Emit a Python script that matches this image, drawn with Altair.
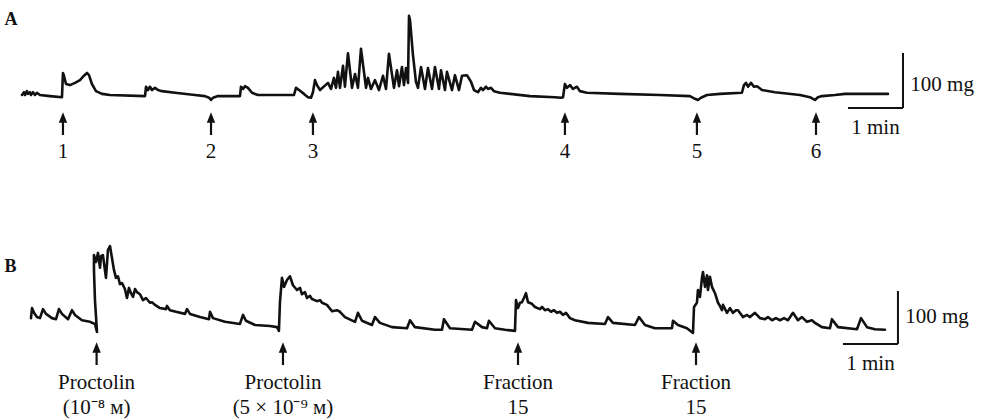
import altair as alt
import pandas as pd

# ---- Trace A: isometric tension (mg) against time (s) ----
a_time = [2.2, 4.4, 5.5, 7.6, 8.7, 10.9, 12.0, 14.2, 16.4, 18.5, 21.8, 32.7, 45.8,
          46.9, 48.0, 50.2, 54.5, 60.0, 65.5, 69.8, 73.1, 75.3, 78.5, 82.9, 89.5, 98.2, 136.4,
          137.5, 139.6, 141.8, 144.0, 147.3, 150.5, 154.9, 169.1, 190.9, 201.8,
          206.2, 208.4, 210.5, 216.0, 240.0,
          241.1, 243.3, 245.5, 248.7, 253.1, 259.6, 298.9,
          301.1, 304.4, 309.8, 314.2, 317.5, 319.6, 321.8, 324.0, 327.3,
          336.0, 339.3, 342.5, 344.7, 346.9, 349.1, 352.4, 354.5, 357.8, 362.2,
          365.5, 368.7, 372.0, 377.5, 379.6, 382.9, 387.3, 391.6, 396.0, 399.3,
          402.5, 408.0, 411.3, 413.5, 416.7, 418.9, 421.1, 423.3, 424.4, 425.5,
          428.7, 432.0, 434.2, 437.5, 441.8, 445.1, 449.5, 452.7, 457.1, 459.3,
          463.6, 465.8, 471.3, 474.5, 478.9, 482.2, 487.6, 492.0, 495.3, 499.6,
          502.9, 505.1, 508.4, 510.5, 513.8, 517.1, 523.6, 556.4, 583.6, 590.2,
          592.4, 594.5, 596.7, 600.0, 603.3, 607.6, 610.9, 618.5, 654.5, 698.2,
          730.9, 736.4, 739.6, 742.9, 749.5, 763.6, 787.6, 789.8, 792.0, 794.2,
          797.5, 800.7, 804.0, 809.5, 823.6, 850.9, 861.8, 865.1, 867.3, 870.5,
          874.9, 889.1, 900.0, 946.9]
a_tension = [0, 5, 0, 7, 2, 5, 0, 5, 0, 4, 0, -2, -4,
             40, 35, 20, 18, 22, 27, 35, 40, 36, 20, 7, 2, 0, -2,
             15, 9, 15, 9, 13, 9, 7, 4, 0, -2,
             -5, -9, -5, -2, -2,
             15, 11, 16, 13, 4, 0, 0,
             13, 9, 2, -4, -5, 5, 27, 18, 9,
             22, 11, 31, 13, 42, 13, 53, 15, 76, 13,
             38, 13, 84, 13, 31, 11, 27, 9, 35, 11,
             75, 13, 45, 16, 51, 18, 49, 22, 144, 136,
             73, 24, 13, 51, 11, 49, 11, 51, 11, 45,
             9, 42, 9, 36, 9, 35, 36, 24, 9, 5,
             13, 9, 15, 11, 13, 7, 4, -2, -4, -5,
             -4, 20, 13, 18, 11, 15, 7, 4, 2, 0,
             -2, -7, -9, -5, 0, 2, 4, 18, 22, 15,
             22, 15, 16, 9, 5, 0, -4, -7, -9, -4,
             -2, 0, 2, 2]

# ---- Trace B ----
b_time = [12.0, 13.1, 15.3, 18.5, 21.8, 25.1, 28.4, 34.9, 39.3, 42.5, 45.8, 52.4, 56.7,
          60.0, 67.6, 76.4, 81.8, 84.0, 81.8, 80.7, 80.7, 82.9, 85.1, 87.3, 88.4, 90.5,
          93.8, 96.0, 98.2, 100.4, 102.5, 104.7, 106.9, 109.1, 111.3, 114.5, 116.7,
          118.9, 121.1, 123.3, 125.5, 127.6, 130.9, 134.2, 137.5, 141.8, 144.0, 147.3,
          152.7, 159.3, 160.4, 163.6, 170.2, 180.0, 182.2, 185.5, 196.4, 206.2, 207.3,
          210.5, 223.6, 240.0, 243.3, 246.5, 256.4, 272.7, 280.4, 282.5, 283.6, 285.8,
          288.0, 291.3, 294.5, 297.8, 302.2, 305.5, 307.6, 310.9, 313.1, 316.4, 318.5,
          324.0, 327.3, 329.5, 334.9, 340.4, 345.8, 349.1, 354.5, 365.5, 368.7, 373.1,
          384.0, 387.3, 392.7, 405.8, 422.2, 425.5, 430.9, 452.7, 460.4, 462.5, 469.1,
          493.1, 496.4, 504.0, 509.5, 511.6, 518.2, 529.1, 540.0, 541.1, 543.3, 545.5,
          547.6, 549.8, 552.0, 554.2, 558.5, 561.8, 567.3, 569.5, 572.7, 576.0, 579.3,
          582.5, 585.8, 589.1, 592.4, 595.6, 600.0, 605.5, 619.6, 638.2, 641.5, 646.9,
          670.9, 675.3, 681.8, 692.7, 711.3, 712.4, 717.8, 727.6, 734.2, 735.3, 738.5,
          739.6, 741.8, 744.0, 745.1, 747.3, 749.5, 750.5, 752.7, 754.9, 758.2, 761.5,
          763.6, 765.8, 766.9, 771.3, 774.5, 777.8, 781.1, 783.3, 788.7, 793.1, 796.4,
          801.8, 807.3, 812.7, 816.0, 820.4, 824.7, 829.1, 833.5, 837.8, 843.3, 848.7,
          853.1, 858.5, 864.0, 867.3, 874.9, 883.6, 885.8, 892.4, 913.1, 917.5, 924.0,
          932.7, 943.6]
b_tension = [13, 32, 23, 15, 13, 30, 21, 13, 11, 30, 21, 11, 28,
             19, 9, 6, 2, -13, 47, 104, 132, 119, 136, 108, 130, 132,
             89, 142, 149, 126, 104, 89, 92, 77, 79, 68, 51,
             70, 60, 53, 68, 62, 58, 47, 51, 42, 43, 38,
             32, 30, 36, 28, 25, 21, 30, 21, 15, 11, 25,
             13, 6, 2, 19, 8, 0, -2, -4, -11, 43, 89,
             72, 85, 92, 75, 66, 70, 58, 62, 51, 55, 49,
             45, 47, 42, 38, 26, 28, 25, 15, 6, 23, 8,
             0, 15, 4, -4, -6, 9, -4, -9, -9, 11, -6,
             -9, 6, -4, -6, 8, -6, -9, -11, 47, 32, 42,
             43, 51, 60, 43, 40, 34, 30, 34, 28, 30, 25,
             28, 23, 25, 19, 23, 13, 9, 4, 2, 15, 4,
             0, 15, 0, -6, -6, 8, 0, -6, -15, 34, 42,
             66, 53, 89, 100, 72, 94, 66, 91, 72, 60, 42,
             36, 28, 38, 23, 32, 23, 28, 28, 15, 19, 15,
             23, 13, 11, 15, 9, 13, 9, 13, 9, 23, 9,
             15, 6, 9, 4, -4, -6, 11, -4, -8, 13, -4,
             -8, -9]

# ---- Stimulus marks ----
a_stim_time = [46.9, 208.4, 319.6, 594.5, 738.5, 868.4]
a_stim_label = ["1", "2", "3", "4", "5", "6"]
b_stim_time = [83.6, 286.9, 543.3, 737.5]
b_stim_name = ["Proctolin", "Proctolin", "Fraction", "Fraction"]
b_stim_dose = ["(10\u207b\u2078 \u043c)", "(5 \u00d7 10\u207b\u2079 \u043c)", "15", "15"]

# ---- Calibration bars: 100 mg and 1 min ----
cal_mg = 100
cal_s = 60

X_DOMAIN = [-21.8, 1048.4]
FONT = "Liberation Serif"
INK = "#111111"
FS = 21


def xenc(field):
    return alt.X(field, type="quantitative", axis=None,
                 scale=alt.Scale(domain=X_DOMAIN, nice=False, zero=False))


def yenc(field, dom):
    return alt.Y(field, type="quantitative", axis=None,
                 scale=alt.Scale(domain=dom, nice=False, zero=False))


def panel(letter, t, mg, dom, stim_t, line1, line2, shaft, head_mg,
          lab1_mg, lab2_mg, cal_end_t, cal_base_mg, cal_text_mg, letter_mg):
    trace = pd.DataFrame({"t": t, "mg": mg, "i": range(len(t))})
    line = alt.Chart(trace).mark_line(color=INK, strokeWidth=2.6,
                                      strokeJoin="round", strokeCap="round").encode(
        x=xenc("t"), y=yenc("mg", dom), order=alt.Order("i:Q"))

    stim = pd.DataFrame({"t": stim_t, "top": shaft[0], "bot": shaft[1],
                         "head": head_mg, "l1": line1,
                         "l2": line2 if line2 is not None else [""] * len(stim_t),
                         "y1": lab1_mg, "y2": lab2_mg if lab2_mg is not None else 0})
    shafts = alt.Chart(stim).mark_rule(color=INK, strokeWidth=2.2).encode(
        x=xenc("t"), y=yenc("top", dom), y2="bot")
    heads = alt.Chart(stim).mark_point(
        shape="M0,-1L0.8,1L-0.8,1Z", filled=True, size=110,
        color=INK, opacity=1, strokeWidth=0).encode(
        x=xenc("t"), y=yenc("head", dom))
    text1 = alt.Chart(stim).mark_text(font=FONT, fontSize=FS, color=INK,
                                      baseline="middle", align="center").encode(
        x=xenc("t"), y=yenc("y1", dom), text="l1:N")
    layers = [line, shafts, heads, text1]
    if line2 is not None:
        text2 = alt.Chart(stim).mark_text(font=FONT, fontSize=FS, color=INK,
                                          baseline="middle", align="center").encode(
            x=xenc("t"), y=yenc("y2", dom), text="l2:N")
        layers.append(text2)

    cal = pd.DataFrame({"t0": [cal_end_t - cal_s], "t1": [cal_end_t],
                        "m0": [cal_base_mg], "m1": [cal_base_mg + cal_mg],
                        "tm": [cal_end_t - cal_s / 2], "tr": [cal_end_t + 8],
                        "mt": [cal_text_mg],
                        "mg_lab": [f"{cal_mg} mg"], "s_lab": [f"{cal_s // 60} min"]})
    vbar = alt.Chart(cal).mark_rule(color=INK, strokeWidth=2).encode(
        x=xenc("t1"), y=yenc("m0", dom), y2="m1")
    hbar = alt.Chart(cal).mark_rule(color=INK, strokeWidth=2).encode(
        x=xenc("t0"), x2="t1", y=yenc("m0", dom))
    mg_txt = alt.Chart(cal).mark_text(font=FONT, fontSize=FS, color=INK,
                                      align="left", baseline="middle").encode(
        x=xenc("tr"), y=yenc("mt", dom), text="mg_lab:N")
    s_txt = alt.Chart(cal).mark_text(font=FONT, fontSize=FS, color=INK,
                                     align="center", baseline="middle", dy=20).encode(
        x=xenc("tm"), y=yenc("m0", dom), text="s_lab:N")

    tag = alt.Chart(pd.DataFrame({"t": [-17.0], "mg": [letter_mg], "s": [letter]})).mark_text(
        font=FONT, fontSize=18, fontWeight="bold", color=INK,
        align="left", baseline="middle").encode(
        x=xenc("t"), y=yenc("mg", dom), text="s:N")

    layers += [vbar, hbar, mg_txt, s_txt, tag]
    return alt.layer(*layers).properties(width=981, height=210)


panel_a = panel("A", a_time, a_tension, [-209.1, 172.7], a_stim_time, a_stim_label, None,
                (-40.0, -72.7), -40.9, -104.0, None, 963.3, -23.6, 18.0, 136.0)
panel_b = panel("B", b_time, b_tension, [-179.2, 217.0], b_stim_time, b_stim_name, b_stim_dose,
                (-42.0, -75.5), -42.5, -108.5, -156.0, 957.8, -35.8, 15.0, 109.0)

chart = alt.vconcat(panel_a, panel_b, spacing=0).properties(padding=0).configure(
    background="white", view=alt.ViewConfig(stroke=None, strokeWidth=0))

chart.save("out.html", embed_options={"renderer": "svg", "actions": False})
